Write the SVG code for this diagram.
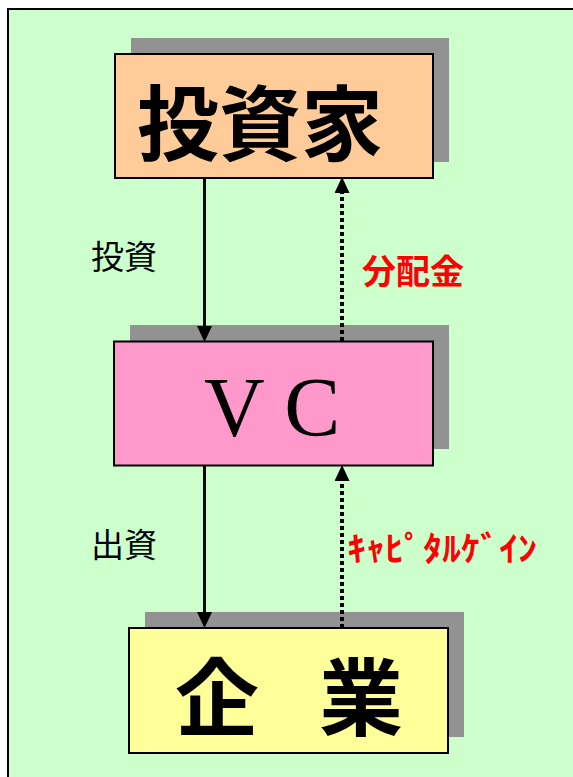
<svg xmlns="http://www.w3.org/2000/svg" width="573" height="777" viewBox="0 0 573 777">
<defs>
<style>
.bg{fill:#ccffcc;stroke:#000;stroke-width:2}
.shadow{fill:#929292}
.box{stroke:#000;stroke-width:2}
.big{font-family:"Noto Sans CJK JP","Noto Sans CJK SC",sans-serif;font-weight:bold;fill:#000}
.lbl{font-family:"Noto Sans CJK JP","Noto Sans CJK SC",sans-serif;font-size:33px;fill:#000}
.red{font-family:"Noto Sans CJK JP","Noto Sans CJK SC",sans-serif;font-weight:bold;font-size:34px;fill:#ff0000}
.solid{stroke:#000;stroke-width:3;fill:none}
.dot{stroke:#000;stroke-width:4;stroke-dasharray:4 3;fill:none}
</style>
<marker id="ah" markerUnits="userSpaceOnUse" markerWidth="17" markerHeight="16" refX="0" refY="7.5" orient="auto">
<path d="M0,0 L16,7.5 L0,15 z" fill="#000"/>
</marker>
</defs>
<rect x="0" y="0" width="573" height="777" fill="#ffffff"/>
<rect class="bg" x="8" y="9" width="580" height="790"/>

<g id="node-investor">
<rect class="shadow" x="131" y="38" width="318" height="124"/>
<rect class="box" x="115" y="54" width="318" height="124" fill="#ffcc99"/>
<text class="big" x="137" y="154" font-size="82">投資家</text>
</g>

<g id="node-vc">
<rect class="shadow" x="130" y="325" width="319" height="124"/>
<rect class="box" x="114" y="341.5" width="319" height="124" fill="#ff99cc"/>
<text x="204" y="436" font-family="Liberation Serif, serif" font-size="84" fill="#000">V C</text>
</g>

<g id="node-company">
<rect class="shadow" x="145" y="612" width="319" height="125"/>
<rect class="box" x="129" y="628" width="319" height="125" fill="#ffff99"/>
<text class="big" x="175" y="729" font-size="84" letter-spacing="-12">企　業</text>
</g>

<g id="connectors">
<line class="solid" x1="204.5" y1="178" x2="204.5" y2="326"/>
<line class="solid" x1="204.5" y1="465.5" x2="204.5" y2="612"/>
<line class="dot" x1="342" y1="341" x2="342" y2="193" marker-end="url(#ah)"/>
<line class="dot" x1="342" y1="628" x2="342" y2="481" marker-end="url(#ah)"/>
<path d="M197,326 L212,326 L204.5,342 z" fill="#000"/>
<path d="M197,612 L212,612 L204.5,628 z" fill="#000"/>
</g>

<g id="labels">
<text class="lbl" x="91" y="269">投資</text>
<text class="lbl" x="91" y="557">出資</text>
<text class="red" x="362" y="284">分配金</text>
<text class="red" x="347" y="561" font-size="60" textLength="190" lengthAdjust="spacingAndGlyphs">ｷｬﾋﾟﾀﾙｹﾞｲﾝ</text>
</g>
</svg>
